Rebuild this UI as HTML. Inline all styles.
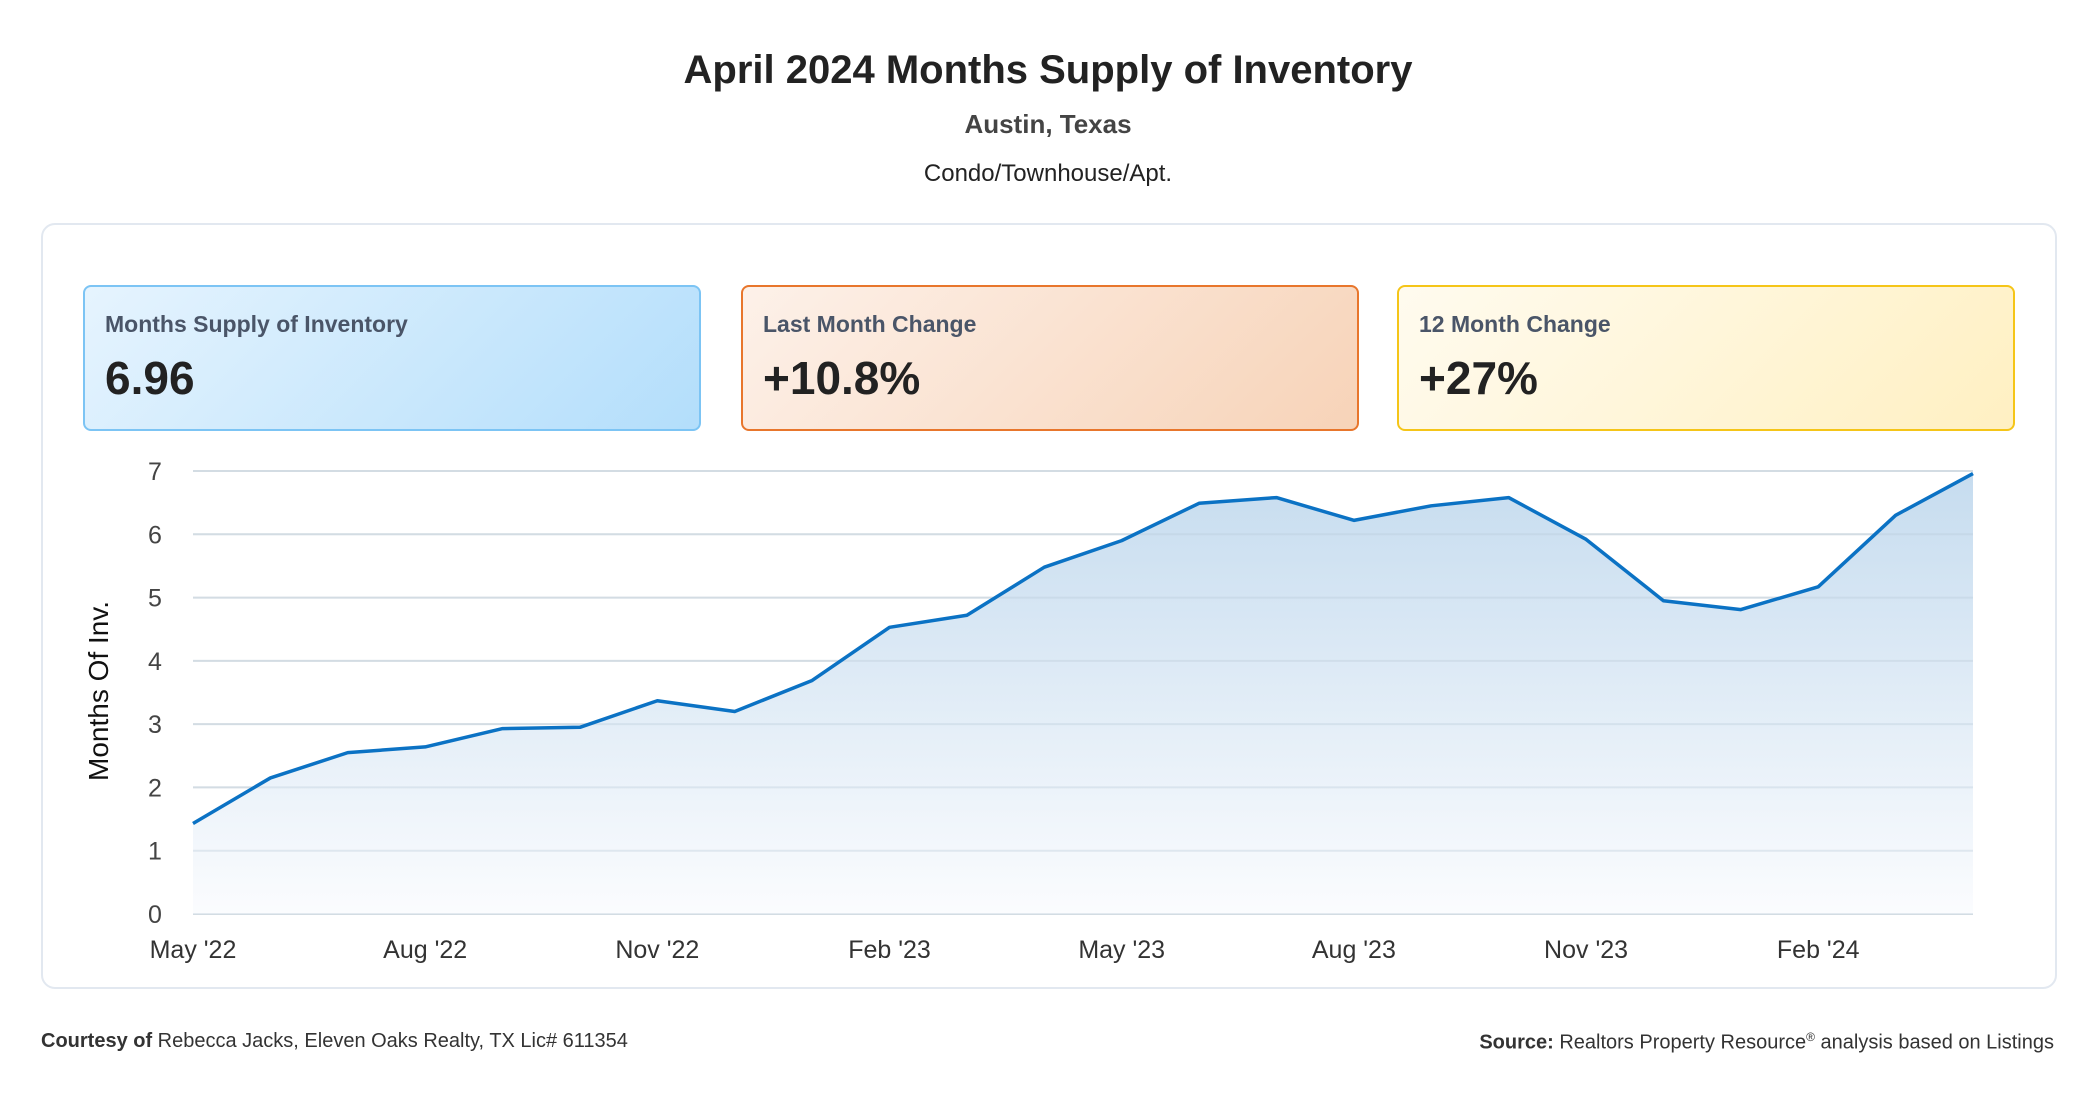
<!DOCTYPE html>
<html><head><meta charset="utf-8"><style>
body{margin:0;width:2096px;height:1100px;background:#fff;font-family:"Liberation Sans",sans-serif;position:relative;overflow:hidden;color:#222}
.abs{position:absolute}
.title{left:0;width:2096px;text-align:center}
.box{position:absolute;top:285px;width:614px;height:142px;border-radius:8px;border:2px solid}
.box .lab{position:absolute;left:20px;top:24px;font-size:23px;font-weight:bold;color:#4a5568}
.box .val{position:absolute;left:20px;top:64px;font-size:46px;font-weight:bold;color:#222}
</style></head><body>
<div class="abs title" style="top:48px;font-size:40px;font-weight:bold;color:#222">April 2024 Months Supply of Inventory</div>
<div class="abs title" style="top:109px;font-size:26px;font-weight:bold;color:#444">Austin, Texas</div>
<div class="abs title" style="top:160px;font-size:24px;color:#222">Condo/Townhouse/Apt.</div>
<div class="abs" style="left:41px;top:223px;width:2012px;height:762px;border:2px solid #e2e8f0;border-radius:14px"></div>
<div class="box" style="left:83px;border-color:#7cc4f4;background:linear-gradient(135deg,#e6f4fe,#b3defb)"><div class="lab">Months Supply of Inventory</div><div class="val">6.96</div></div>
<div class="box" style="left:741px;border-color:#e8762c;background:linear-gradient(135deg,#fdf1e9,#f7d3b8)"><div class="lab">Last Month Change</div><div class="val">+10.8%</div></div>
<div class="box" style="left:1397px;border-color:#f5c518;background:linear-gradient(135deg,#fffbef,#fff0c2)"><div class="lab">12 Month Change</div><div class="val">+27%</div></div>
<svg class="abs" style="left:0;top:0" width="2096" height="1100" id="chart">
<defs><linearGradient id="fill" x1="0" y1="0" x2="0" y2="1"><stop offset="0" stop-color="#c6dcef"/><stop offset="1" stop-color="#fbfcfe"/></linearGradient></defs>
<text transform="translate(108,691) rotate(-90)" text-anchor="middle" font-size="28" fill="#111" font-family="Liberation Sans, sans-serif">Months Of Inv.</text>
</svg>
<div class="abs" style="left:41px;top:1030px;font-size:20px;color:#333"><b>Courtesy of</b> Rebecca Jacks, Eleven Oaks Realty, TX Lic# 611354</div>
<div class="abs" style="right:42px;top:1030px;font-size:20px;color:#333"><b>Source:</b> Realtors Property Resource<sup style="font-size:12px">®</sup> analysis based on Listings</div>
<script>
const months=["May '22","Jun '22","Jul '22","Aug '22","Sep '22","Oct '22","Nov '22","Dec '22","Jan '23","Feb '23","Mar '23","Apr '23","May '23","Jun '23","Jul '23","Aug '23","Sep '23","Oct '23","Nov '23","Dec '23","Jan '24","Feb '24","Mar '24","Apr '24"];
const values=[1.43,2.15,2.55,2.64,2.93,2.95,3.37,3.2,3.69,4.53,4.72,5.48,5.9,6.49,6.58,6.22,6.45,6.58,5.92,4.95,4.81,5.17,6.3,6.96];
const yTicks=[0,1,2,3,4,5,6,7];
const xTickLabels=["May '22","Aug '22","Nov '22","Feb '23","May '23","Aug '23","Nov '23","Feb '24"];
const svg=document.getElementById('chart');const NS='http://www.w3.org/2000/svg';
const x0=193,x1=1973,y0=914,y7=471;
const xs=i=>x0+(x1-x0)*i/(months.length-1);
const ys=v=>y0-(y0-y7)*v/7;
function mk(t,a){const e=document.createElementNS(NS,t);for(const k in a)e.setAttribute(k,a[k]);svg.appendChild(e);return e;}
yTicks.forEach(t=>{
 const g=mk('line',{x1:x0,x2:x1,y1:ys(t),y2:ys(t),stroke:'#e2e6ea','stroke-width':2});
 
 
 const l=mk('text',{x:155,y:ys(t)+9,'text-anchor':'middle','font-size':25,fill:'#444','font-family':'Liberation Sans, sans-serif'});l.textContent=t;
 
 
});
let pts=values.map((v,i)=>xs(i)+','+ys(v)).join(' ');
const area=mk('polygon',{points:pts+' '+xs(values.length-1)+','+y0+' '+x0+','+y0,fill:'url(#fill)'});


yTicks.forEach(t=>{mk('line',{x1:x0,x2:x1,y1:ys(t),y2:ys(t),stroke:'#b8c8d8','stroke-opacity':0.35,'stroke-width':2});});
const line=mk('polyline',{points:pts,fill:'none',stroke:'#0b72c4','stroke-width':3.5,'stroke-linejoin':'round'});


xTickLabels.forEach(lbl=>{
 const i=months.indexOf(lbl);
 const t=mk('text',{x:xs(i),y:958,'text-anchor':'middle','font-size':25,fill:'#333','font-family':'Liberation Sans, sans-serif'});t.textContent=lbl;
 
 
});
</script>
</body></html>
